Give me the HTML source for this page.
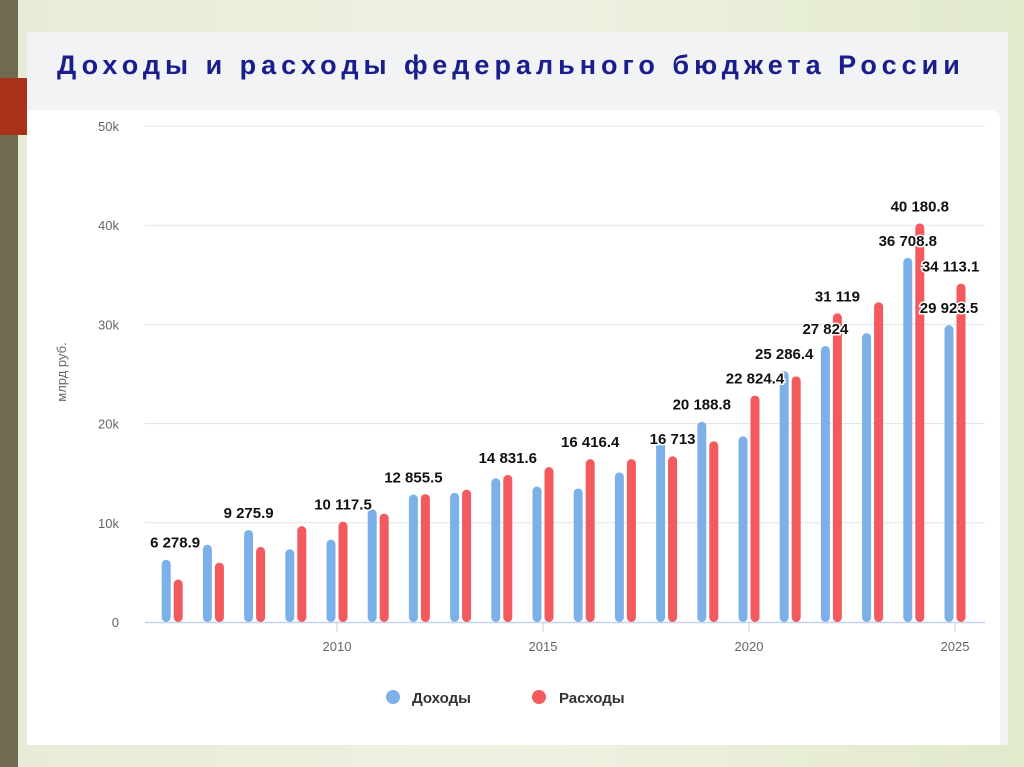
<!DOCTYPE html>
<html><head><meta charset="utf-8"><style>
body{margin:0;width:1024px;height:767px;overflow:hidden;background:linear-gradient(90deg,#e6ecd6,#eef2e2 50%,#e2eacc);font-family:"Liberation Sans","DejaVu Sans",sans-serif;position:relative}
#stripe{position:absolute;left:0;top:0;width:18px;height:767px;background:#6f6a50}
#redblock{position:absolute;left:0;top:78px;width:27px;height:57px;background:#a8321a}
#panel{position:absolute;left:27px;top:32px;width:981px;height:713px;background:#f2f3f5}
#white{position:absolute;left:27px;top:110px;width:973px;height:635px;background:#fff;border-top-right-radius:10px}
#title{position:absolute;left:57px;top:50px;font-size:27px;font-weight:bold;color:#1a1d8c;letter-spacing:5px;white-space:nowrap}
svg{position:absolute;left:0;top:0}
</style></head><body>
<div id="stripe"></div>
<div id="redblock"></div>
<div id="panel"></div>
<div id="white"></div>
<div id="title">Доходы и расходы федерального бюджета России</div>
<svg id="chart" width="1024" height="767"></svg>
<script>
const years=[2006,2007,2008,2009,2010,2011,2012,2013,2014,2015,2016,2017,2018,2019,2020,2021,2022,2023,2024,2025];
const revenues=[6278.9,7781.1,9275.9,7337.8,8305.4,11367.7,12855.5,13019.9,14496.9,13659.2,13460,15088.9,18500,20188.8,18719.1,25286.4,27824,29124.9,36708.8,29923.5];
const expenses=[4284.8,5986.6,7570.9,9660.1,10117.5,10925.6,12895,13342.9,14831.6,15620.3,16416.4,16420.3,16713,18214.5,22824.4,24762.1,31119,32238,40180.8,34113.1];
const yTicks=[0,10000,20000,30000,40000,50000];
const yTickLabels=["0","10k","20k","30k","40k","50k"];
const xTicks=[2010,2015,2020,2025];
const revLabelYears=[2006,2008,2012,2019,2021,2022,2024,2025];
const expLabelYears=[2010,2014,2016,2018,2020,2022,2024,2025];
const fmt=v=>{let s=String(v).split('.');s[0]=s[0].replace(/\B(?=(\d{3})+(?!\d))/g,' ');return s.join('.');};

const svg=document.getElementById('chart');const NS='http://www.w3.org/2000/svg';
const y0=622,yTop=126,left=145,right=985;
const ys=v=>y0-(v/50000)*(y0-yTop);
const xs=yr=>337+(yr-2010)*41.2;
function mk(t,a,parent){const e=document.createElementNS(NS,t);for(const k in a)e.setAttribute(k,a[k]);(parent||svg).appendChild(e);return e;}
yTicks.forEach((t,i)=>{
 if(t>0){const g=mk('line',{x1:left,x2:right,y1:ys(t),y2:ys(t),stroke:'#e3e3e3','stroke-width':1});
 
 }
 const l=mk('text',{x:119,y:ys(t)+5,'text-anchor':'end','font-size':13,fill:'#666'});l.textContent=yTickLabels[i];
 
 
});
const ax=mk('line',{x1:left,x2:right,y1:y0+0.5,y2:y0+0.5,stroke:'#c4d4ea','stroke-width':1.5});


xTicks.forEach(t=>{
 const tk=mk('line',{x1:xs(t),x2:xs(t),y1:y0,y2:y0+10,stroke:'#c4d4ea'});
 
 
 const l=mk('text',{x:xs(t),y:651,'text-anchor':'middle','font-size':13,fill:'#666'});l.textContent=t;
 
 
});
const yt=mk('text',{x:0,y:0,transform:'translate(66,372) rotate(-90)','text-anchor':'middle','font-size':13,fill:'#666'});yt.textContent='млрд руб.';


function bar(x,v,c){const top=ys(v);const r=mk('rect',{x:x-4.5,y:top,width:9,height:y0-top,rx:4.5,fill:c});return r;}
years.forEach((yr,i)=>{
 const b=bar(xs(yr)-6,revenues[i],'#7cb0e8');
 
 
 const r=bar(xs(yr)+6,expenses[i],'#f25a5d');
 
 
});
function label(x,v){const txt=fmt(v);const w=txt.length*8.6;let cx=Math.max(left+w/2,Math.min(985-w/2,x));
 const t=mk('text',{x:cx,y:ys(v)-12,'text-anchor':'middle','font-size':15,'font-weight':'bold',fill:'#111',stroke:'#fff','stroke-width':3,'paint-order':'stroke'});t.textContent=txt;return t;}
revLabelYears.forEach(yr=>{const i=years.indexOf(yr);const t=label(xs(yr)-6,revenues[i]);
 
 });
expLabelYears.forEach(yr=>{const i=years.indexOf(yr);const t=label(xs(yr)+6,expenses[i]);
 
 });
const lg=mk('g',{});


const c1=mk('circle',{cx:393,cy:697,r:7,fill:'#7cb0e8'},lg);


const t1=mk('text',{x:412,y:703,'font-size':15,'font-weight':'bold',fill:'#333'},lg);t1.textContent='Доходы';


const c2=mk('circle',{cx:539,cy:697,r:7,fill:'#f25a5d'},lg);


const t2=mk('text',{x:559,y:703,'font-size':15,'font-weight':'bold',fill:'#333'},lg);t2.textContent='Расходы';


</script>
</body></html>
